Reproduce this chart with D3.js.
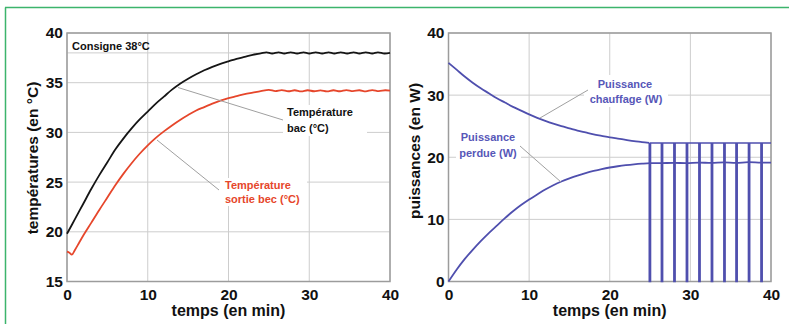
<!DOCTYPE html>
<html><head><meta charset="utf-8">
<script src="https://cdn.jsdelivr.net/npm/d3@7"></script>
<style>
html,body{margin:0;padding:0;background:#fff;}
svg{display:block;font-family:"Liberation Sans",Arial,sans-serif;}
</style></head>
<body><svg id="c" width="789" height="324"></svg>
<script>
// ---------- DATA ----------
const tempXTicks = [0, 10, 20, 30, 40];
const tempYTicks = [15, 20, 25, 30, 35, 40];
const consigne = 38;
const powXTicks = [0, 10, 20, 30, 40];
const powYTicks = [0, 10, 20, 30, 40];

// Température bac (°C)
const bacTime = [0,1,2,3,4,5,6,7,8,9,10,11,12,13,14,15,16,17,18,19,20,21,22,23,24,24.7,
  25.4,26.2,26.9,27.7,28.5,29.3,30.0,30.8,31.6,32.4,33.1,33.9,34.7,35.5,36.2,37.0,37.8,38.5,39.3,40];
const bacVal = [19.8,21.3,22.8,24.3,25.7,27.0,28.3,29.4,30.4,31.3,32.1,32.9,33.6,34.3,34.9,35.4,35.85,36.25,36.6,36.9,37.15,37.4,37.6,37.8,37.95,38.06,
  37.94,38.06,37.94,38.06,37.94,38.06,37.94,38.06,37.94,38.06,37.94,38.06,37.94,38.06,37.94,38.06,37.94,38.06,37.94,38.0];

// Température sortie bec (°C)
const becTime = [0,0.3,0.6,1,1.5,2,3,4,5,6,7,8,9,10,11,12,13,14,15,16,17,18,19,20,21,22,23,24,25,
  25.8,26.6,27.4,28.2,29.0,29.8,30.6,31.4,32.2,33.0,33.8,34.6,35.4,36.2,37.0,37.8,38.6,39.4,40];
const becVal = [18.0,17.9,17.7,18.2,18.9,19.6,20.9,22.2,23.45,24.7,25.85,26.9,27.85,28.7,29.45,30.1,30.7,31.25,31.75,32.2,32.55,32.9,33.2,33.45,33.65,33.85,34.0,34.15,34.28,
  34.16,34.26,34.14,34.24,34.12,34.24,34.14,34.22,34.12,34.24,34.14,34.26,34.15,34.24,34.13,34.26,34.15,34.24,34.2];

// Puissance chauffage (W)
const chaufTime = [0,1,2,3,4,5,6,7,8,9,10,11,12,13,14,15,16,17,18,19,20,21,22,23,24,24.9];
const chaufVal = [35.2,34.1,33.0,32.0,31.1,30.3,29.5,28.8,28.1,27.5,26.9,26.35,25.85,25.4,25.0,24.65,24.3,24.0,23.7,23.45,23.2,23.0,22.8,22.6,22.45,22.3];
const chaufOnLevel = 22.3;
const chaufOffLevel = 0;
const pulseTimes = [24.9,26.4,27.95,29.5,31.05,32.6,34.15,35.65,37.2,38.75];
const pulseDuration = 0.16;

// Puissance perdue (W)
const perdTime = [0,1,2,3,4,5,6,7,8,9,10,11,12,13,14,15,16,17,18,19,20,21,22,23,24,25,
  26.4,27.95,29.5,31.05,32.6,34.15,35.65,37.2,38.75,40];
const perdVal = [0,1.9,3.6,5.1,6.5,7.8,9.0,10.2,11.3,12.3,13.2,14.0,14.8,15.5,16.1,16.6,17.05,17.45,17.8,18.1,18.35,18.55,18.72,18.86,18.97,19.05,
  19.05,19.1,19.05,19.15,19.08,19.18,19.1,19.2,19.12,19.15];

// ---------- DRAW ----------
const svg = d3.select("#c");
const GRID = "#cdcdcd", FRAME = "#9c9c9c", LEAD = "#a0a0a0";
const BLACK = "#151515", RED = "#e6462b", BLUE = "#4f4fae", BLUE_TXT = "#5757b8";

svg.append("line").attr("x1",5.5).attr("y1",7.5).attr("x2",5.5).attr("y2",324).attr("stroke","#3cb46c").attr("stroke-width",1.5);
svg.append("line").attr("x1",5).attr("y1",7.5).attr("x2",789).attr("y2",7.5).attr("stroke","#3cb46c").attr("stroke-width",1.5);

function panel(opts){
  const g = svg.append("g");
  const x = d3.scaleLinear().domain([0,40]).range(opts.xr);
  const y = d3.scaleLinear().domain(opts.yd).range([281.5,33]);
  opts.xt.forEach(v=>g.append("line").attr("x1",x(v)).attr("x2",x(v)).attr("y1",y.range()[0]).attr("y2",y.range()[1]).attr("stroke",GRID).attr("stroke-width",1));
  opts.yt.concat(opts.extra||[]).forEach(v=>g.append("line").attr("y1",y(v)).attr("y2",y(v)).attr("x1",opts.xr[0]).attr("x2",opts.xr[1]).attr("stroke",GRID).attr("stroke-width",1));
  g.append("rect").attr("x",opts.xr[0]).attr("y",33).attr("width",opts.xr[1]-opts.xr[0]).attr("height",281.5-33)
    .attr("fill","none").attr("stroke",FRAME).attr("stroke-width",1.5);
  const ax = d3.axisBottom(x).tickValues(opts.xt).tickSize(0).tickPadding(0).tickFormat(d3.format("d"));
  const gx = g.append("g").attr("transform","translate(0,300)").call(ax);
  gx.select(".domain").remove();
  gx.selectAll("text").attr("dy",0).attr("font-size","15.5px").attr("font-weight","bold").attr("fill","#111").attr("font-family","Liberation Sans,Arial,sans-serif");
  const ay = d3.axisLeft(y).tickValues(opts.yt).tickSize(0).tickPadding(4).tickFormat(d3.format("d"));
  const gy = g.append("g").attr("transform",`translate(${opts.xr[0]},0)`).call(ay);
  gy.select(".domain").remove();
  gy.selectAll("text").attr("font-size","15.5px").attr("font-weight","bold").attr("fill","#111").attr("font-family","Liberation Sans,Arial,sans-serif")
    .attr("dy", "0.32em");
  g.append("text").attr("x",(opts.xr[0]+opts.xr[1])/2).attr("y",315.5).attr("text-anchor","middle")
    .attr("font-size","16px").attr("font-weight","bold").attr("fill","#111").text("temps (en min)");
  g.append("text").attr("transform",`translate(${opts.ytx},${opts.ytc}) rotate(-90)`).attr("text-anchor","middle")
    .attr("font-size","15.5px").attr("font-weight","bold").attr("fill","#111").text(opts.ytitle);
  return {g,x,y};
}

const L = panel({xr:[67,390], yd:[15,40], xt:tempXTicks, yt:tempYTicks, extra:[consigne], ytx:38, ytc:158, ytitle:"températures (en °C)"});
const R = panel({xr:[448.5,771], yd:[0,40], xt:powXTicks, yt:powYTicks, ytx:420, ytc:151, ytitle:"puissances (en W)"});

function box(g,x0,y0,x1,y1){ g.append("rect").attr("x",x0).attr("y",y0).attr("width",x1-x0).attr("height",y1-y0).attr("fill","#fff"); }
box(L.g,283,105,367,136);
box(L.g,220,178,307,206);
box(R.g,584,75,668,107);
box(R.g,456,129,521,161);

const smooth = d3.curveCatmullRom.alpha(0.5);
const lineL = d3.line().x(d=>L.x(d[0])).y(d=>L.y(d[1])).curve(smooth);
const lineR = d3.line().x(d=>R.x(d[0])).y(d=>R.y(d[1])).curve(smooth);
const lineRStep = d3.line().x(d=>R.x(d[0])).y(d=>R.y(d[1]));

L.g.append("path").attr("d",lineL(becTime.map((t,i)=>[t,becVal[i]]))).attr("fill","none").attr("stroke",RED).attr("stroke-width",1.8);
L.g.append("path").attr("d",lineL(bacTime.map((t,i)=>[t,bacVal[i]]))).attr("fill","none").attr("stroke",BLACK).attr("stroke-width",1.8);

R.g.append("path").attr("d",lineR(perdTime.map((t,i)=>[t,perdVal[i]]))).attr("fill","none").attr("stroke",BLUE).attr("stroke-width",1.8);
R.g.append("path").attr("d",lineR(chaufTime.map((t,i)=>[t,chaufVal[i]]))).attr("fill","none").attr("stroke",BLUE).attr("stroke-width",1.8);
const steps = [];
pulseTimes.forEach((p,i)=>{
  steps.push([p,chaufOnLevel],[p,chaufOffLevel],[p+pulseDuration,chaufOffLevel],[p+pulseDuration,chaufOnLevel]);
  const next = i<pulseTimes.length-1 ? pulseTimes[i+1] : 40;
  steps.push([next,chaufOnLevel]);
});
R.g.append("path").attr("d",lineRStep(steps)).attr("fill","none").attr("stroke",BLUE).attr("stroke-width",1.5);

function lead(g,x1,y1,x2,y2){ g.append("line").attr("x1",x1).attr("y1",y1).attr("x2",x2).attr("y2",y2).attr("stroke",LEAD).attr("stroke-width",1); }
lead(L.g,178,87.5,283,120);
lead(L.g,157,140,219,190);
lead(R.g,540,118,588,90);
lead(R.g,520,146,561,182);

function txt(g,x,y,s,col,anchor){ g.append("text").attr("x",x).attr("y",y).attr("font-size","11px").attr("font-weight","bold").attr("fill",col).attr("text-anchor",anchor||"start").text(s); }
txt(L.g,72,49.5,"Consigne 38°C","#111");
txt(L.g,287,116,"Température","#111");
txt(L.g,287,132,"bac (°C)","#111");
txt(L.g,225,188.5,"Température",RED);
txt(L.g,225,202.5,"sortie bec (°C)",RED);
txt(R.g,625,88,"Puissance",BLUE_TXT,"middle");
txt(R.g,626,103,"chauffage (W)",BLUE_TXT,"middle");
txt(R.g,488,141,"Puissance",BLUE_TXT,"middle");
txt(R.g,488,156.5,"perdue (W)",BLUE_TXT,"middle");
</script></body></html>
